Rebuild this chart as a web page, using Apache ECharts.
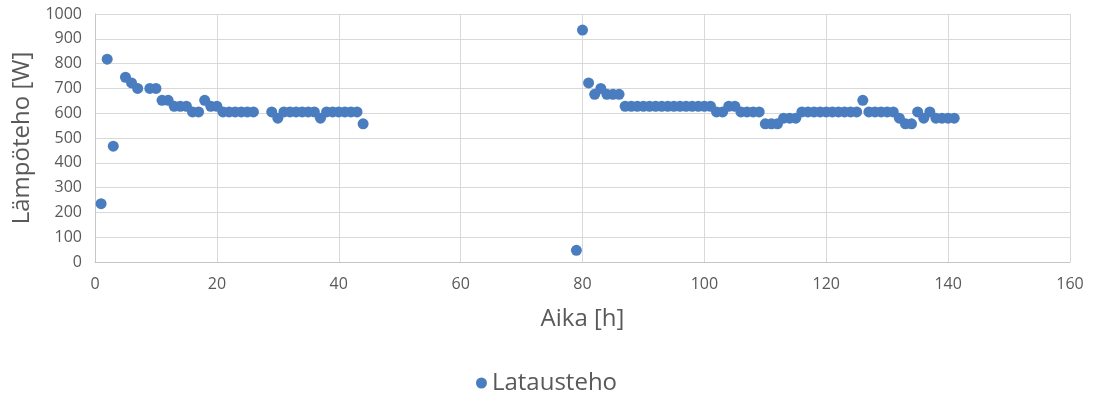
<!DOCTYPE html>
<html>
<head>
<meta charset="utf-8">
<script src="https://cdn.jsdelivr.net/npm/echarts@6/dist/echarts.min.js"></script>
<style>
  html, body { margin: 0; padding: 0; background: #ffffff; }
  #chart { width: 1093px; height: 396px; }
</style>
</head>
<body>
<div id="chart"></div>
<script>
// Charging time (hours) and heat output (W)
const hours = [
  1, 2, 3, 5, 6, 7, 9, 10, 11, 12, 13, 14, 15, 16, 17, 18, 19, 20,
  21, 22, 23, 24, 25, 26, 29, 30, 31, 32, 33, 34, 35, 36, 37, 38, 39, 40,
  41, 42, 43, 44,
  79, 80, 81, 82, 83, 84, 85, 86, 87, 88, 89, 90, 91, 92, 93, 94, 95, 96,
  97, 98, 99, 100, 101, 102, 103, 104, 105, 106, 107, 108, 109, 110, 111, 112,
  113, 114, 115, 116, 117, 118, 119, 120, 121, 122, 123, 124, 125, 126, 127, 128,
  129, 130, 131, 132, 133, 134, 135, 136, 137, 138, 139, 140, 141
];
const power = [
  235, 818, 467, 745, 722, 700, 700, 700, 652, 652, 628, 628, 628, 605, 605, 652, 628, 628,
  605, 605, 605, 605, 605, 605, 605, 580, 605, 605, 605, 605, 605, 605, 580, 605, 605, 605,
  605, 605, 605, 557,
  47, 935, 722, 676, 700, 676, 676, 676, 628, 628, 628, 628, 628, 628, 628, 628, 628, 628,
  628, 628, 628, 628, 628, 605, 605, 628, 628, 605, 605, 605, 605, 557, 557, 557,
  580, 580, 580, 605, 605, 605, 605, 605, 605, 605, 605, 605, 605, 652, 605, 605,
  605, 605, 605, 580, 557, 557, 605, 580, 605, 580, 580, 580, 580
];
const seriesName = 'Latausteho';
const xTitle = 'Aika [h]';
const yTitle = 'Lämpöteho [W]';

const points = hours.map((h, i) => [h, power[i]]);

const FONT = '"Open Sans", Lato, sans-serif';
const TEXT = '#595959';
const BLUE = '#4a7dc0';

const chart = echarts.init(document.getElementById('chart'), null, { renderer: 'canvas' });
chart.setOption({
  animation: false,
  backgroundColor: '#ffffff',
  textStyle: { fontFamily: FONT, color: TEXT },
  grid: { left: 95, right: 23, top: 14, bottom: 134, containLabel: false },
  legend: {
    data: [{ name: seriesName, icon: 'circle' }],
    left: 'center',
    top: 366,
    itemWidth: 11,
    itemHeight: 11,
    itemGap: 8,
    itemStyle: { opacity: 1 },
    textStyle: { fontFamily: FONT, fontSize: 24, color: TEXT }
  },
  xAxis: {
    type: 'value',
    min: 0,
    max: 160,
    interval: 20,
    name: xTitle,
    nameLocation: 'middle',
    nameGap: 45,
    nameTextStyle: { fontFamily: FONT, fontSize: 24, color: TEXT },
    axisLine: { show: true, onZero: false, lineStyle: { color: '#c6c6c6', width: 1 } },
    axisTick: { show: false },
    axisLabel: { margin: 14, fontFamily: FONT, fontSize: 16, color: TEXT },
    splitLine: { show: true, lineStyle: { color: '#d9d9d9', width: 1 } }
  },
  yAxis: {
    type: 'value',
    min: 0,
    max: 1000,
    interval: 100,
    name: yTitle,
    nameLocation: 'middle',
    nameGap: 60,
    nameTextStyle: { fontFamily: FONT, fontSize: 24, color: TEXT },
    axisLine: { show: true, lineStyle: { color: '#c6c6c6', width: 1 } },
    axisTick: { show: false },
    axisLabel: {
      margin: 13, fontFamily: FONT, fontSize: 16, color: TEXT,
      formatter: (v) => String(v)
    },
    splitLine: { show: true, lineStyle: { color: '#d9d9d9', width: 1 } }
  },
  series: [{
    name: seriesName,
    type: 'scatter',
    data: points,
    symbol: 'circle',
    symbolSize: 11,
    itemStyle: { color: BLUE, opacity: 1 }
  }]
});
</script>
</body>
</html>
